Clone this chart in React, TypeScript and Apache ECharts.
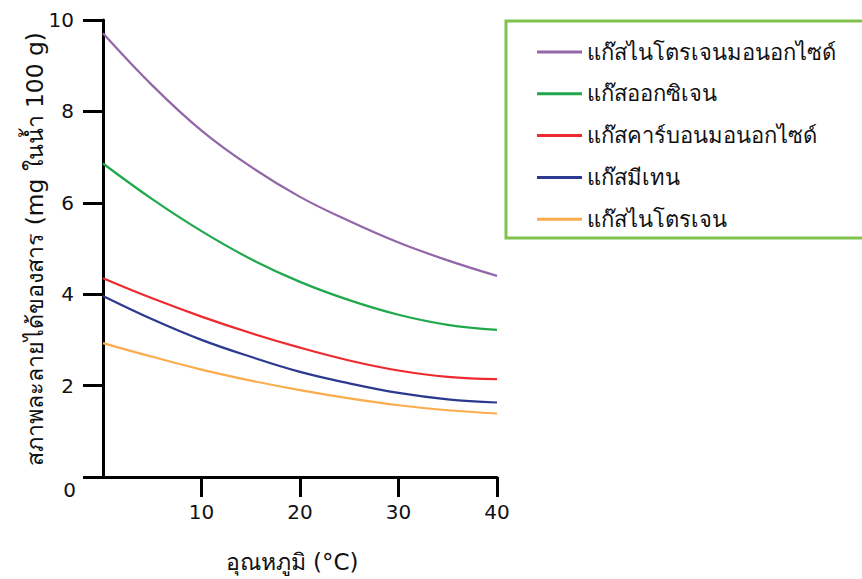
import React, { useEffect, useRef } from "react";
import * as echarts from "echarts";

const temps = [0, 5, 10, 15, 20, 25, 30, 35, 40];
const nitricOxide = [9.71, 8.57, 7.58, 6.79, 6.13, 5.6, 5.13, 4.74, 4.4];
const oxygen = [6.86, 6.08, 5.38, 4.77, 4.27, 3.87, 3.55, 3.33, 3.22];
const carbonMonoxide = [4.35, 3.91, 3.51, 3.15, 2.83, 2.55, 2.33, 2.19, 2.14];
const methane = [3.96, 3.45, 3.0, 2.63, 2.3, 2.05, 1.84, 1.7, 1.63];
const nitrogen = [2.93, 2.63, 2.35, 2.11, 1.9, 1.72, 1.57, 1.46, 1.39];

const seriesNames = [
  "แก๊สไนโตรเจนมอนอกไซด์",
  "แก๊สออกซิเจน",
  "แก๊สคาร์บอนมอนอกไซด์",
  "แก๊สมีเทน",
  "แก๊สไนโตรเจน",
];
const seriesColors = ["#9366a8", "#20a84c", "#ee2a30", "#2b3990", "#fbac4c"];
const seriesValues = [nitricOxide, oxygen, carbonMonoxide, methane, nitrogen];

const xTicks = [10, 20, 30, 40];
const yAxisName = "สภาพละลายได้ของสาร (mg ในน้ำ 100 g)";
const xAxisName = "อุณหภูมิ (°C)";

const FONT = "Tahoma, 'DejaVu Sans', Verdana, 'Noto Sans', sans-serif";

export default function App() {
  const ref = useRef<HTMLDivElement>(null);
  useEffect(() => {
    if (!ref.current) return;
    const chart = echarts.init(ref.current, undefined, { renderer: "svg" });
    const axisStyle = { color: "#000", width: 3 };
    chart.setOption({
      animation: false,
      backgroundColor: "#fff",
      textStyle: { fontFamily: FONT },
      grid: { left: 103, right: 365, top: 20, bottom: 102, containLabel: false },
      xAxis: {
        type: "value",
        min: 0,
        max: 40,
        interval: 10,
        axisLine: { show: true, lineStyle: axisStyle },
        axisTick: {
          show: true,
          length: 20,
          lineStyle: axisStyle,
          customValues: xTicks,
        },
        axisLabel: {
          color: "#111",
          fontSize: 20,
          fontFamily: FONT,
          margin: 25,
          customValues: xTicks,
          formatter: (v: number) => (v === 0 ? "" : String(v)),
        },
        splitLine: { show: false },
      },
      yAxis: {
        type: "value",
        min: 0,
        max: 10,
        interval: 2,
        axisLine: { show: true, lineStyle: axisStyle },
        axisTick: { show: true, length: 20, lineStyle: axisStyle },
        axisLabel: {
          color: "#111",
          fontSize: 20,
          fontFamily: FONT,
          margin: 29,
          formatter: (v: number) => (v === 0 ? "" : String(v)),
        },
        splitLine: { show: false },
      },
      legend: {
        orient: "vertical",
        left: 532,
        top: 36,
        icon: "rect",
        itemWidth: 45,
        itemHeight: 3,
        itemGap: 19.8,
        textStyle: {
          fontSize: 22,
          lineHeight: 22,
          color: "#111",
          fontFamily: FONT,
        },
        data: seriesNames,
      },
      graphic: [
        {
          type: "rect",
          shape: { x: 506, y: 21, width: 360, height: 217 },
          style: { fill: "none", stroke: "#80c24e", lineWidth: 3 },
          z: 10,
        },
        {
          type: "text",
          x: 76,
          y: 490,
          style: {
            text: "0",
            fontSize: 20,
            fontFamily: FONT,
            fill: "#111",
            align: "right",
            verticalAlign: "middle",
          },
        },
        {
          type: "text",
          x: 34,
          y: 249,
          rotation: Math.PI / 2,
          style: {
            text: yAxisName,
            fontSize: 23.3,
            fontFamily: FONT,
            fill: "#111",
            align: "center",
            verticalAlign: "middle",
          },
        },
        {
          type: "text",
          x: 292,
          y: 562,
          style: {
            text: xAxisName,
            fontSize: 23,
            fontFamily: FONT,
            fill: "#111",
            align: "center",
            verticalAlign: "middle",
          },
        },
      ],
      series: seriesNames.map((name, i) => ({
        name,
        type: "line",
        smooth: 0.4,
        symbol: "none",
        color: seriesColors[i],
        lineStyle: { color: seriesColors[i], width: 2.2 },
        data: temps.map((t, j) => [t, seriesValues[i][j]]),
      })),
    });
    return () => chart.dispose();
  }, []);
  return (
    <div
      ref={ref}
      style={{ position: "fixed", left: 0, top: 0, width: 862, height: 579 }}
    />
  );
}
